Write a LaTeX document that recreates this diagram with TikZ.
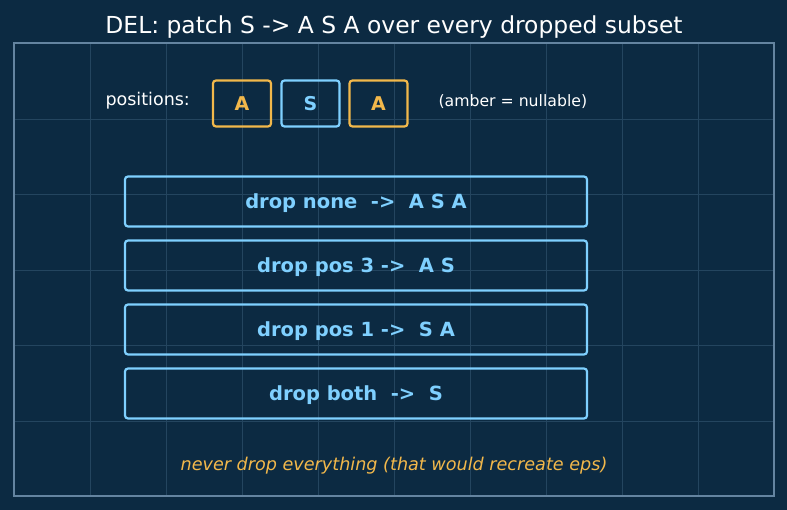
\documentclass[tikz,border=0pt]{standalone}
\usepackage{fontspec}
\setmainfont{DejaVu Sans}
\definecolor{bg}{HTML}{0C2A42}
\definecolor{gridc}{HTML}{24455F}
\definecolor{framec}{HTML}{6484A0}
\definecolor{amber}{HTML}{F2B84B}
\definecolor{sky}{HTML}{7FD0FF}
\begin{document}
\begin{tikzpicture}[x=1pt,y=-1pt,
  posbox/.style={draw, line width=2.2pt, rounded corners=3pt, minimum width=58pt, minimum height=46pt, inner sep=0pt, text depth=-1pt, font=\fontsize{19}{22}\selectfont\bfseries},
  dropbox/.style={draw=sky, line width=2.2pt, rounded corners=3pt, minimum width=462pt, minimum height=50pt, inner sep=0pt, text depth=0pt, text=sky, font=\fontsize{19.5}{23}\selectfont\bfseries}]
\fill[bg] (0,0) rectangle (787,510);
\useasboundingbox (0,0) rectangle (787,510);
\begin{scope}
\clip (14,43) rectangle (774,496);
\foreach \x in {90,166,242,318,394,470,546,622,698} \draw[gridc, line width=0.8pt] (\x,43) -- (\x,496);
\foreach \y in {119,194.5,270,345.5,421} \draw[gridc, line width=0.8pt] (14,\y) -- (774,\y);
\end{scope}
\draw[framec, line width=1.5pt] (14,43) rectangle (774,496);
\node (title) at (394,27) {\fontsize{23.4}{28}\selectfont\color{white}DEL: patch S -> A S A over every dropped subset};
\node[anchor=west, text=white, font=\fontsize{17.5}{21}\selectfont] (plabel) at (102,101) {positions:};
\node[posbox, draw=amber, text=amber] (p1) at (242,103.5) {A};
\node[posbox, draw=sky, text=sky] (p2) at (310.5,103.5) {S};
\node[posbox, draw=amber, text=amber] (p3) at (378.5,103.5) {A};
\node[anchor=west, text=white, font=\fontsize{15.7}{19}\selectfont] (note) at (435,101.5) {(amber = nullable)};
\node[dropbox] (d1) at (356,201.5) {drop none\ \ ->\ \ A S A};
\node[dropbox] (d2) at (356,265.5) {drop pos 3 ->\ \ A S};
\node[dropbox] (d3) at (356,329.5) {drop pos 1 ->\ \ S A};
\node[dropbox] (d4) at (356,393.5) {drop both\ \ ->\ \ S};
\node[text=amber, font=\fontsize{17.6}{21}\selectfont\itshape] (foot) at (394,466) {never drop everything (that would recreate eps)};
\end{tikzpicture}
\end{document}
